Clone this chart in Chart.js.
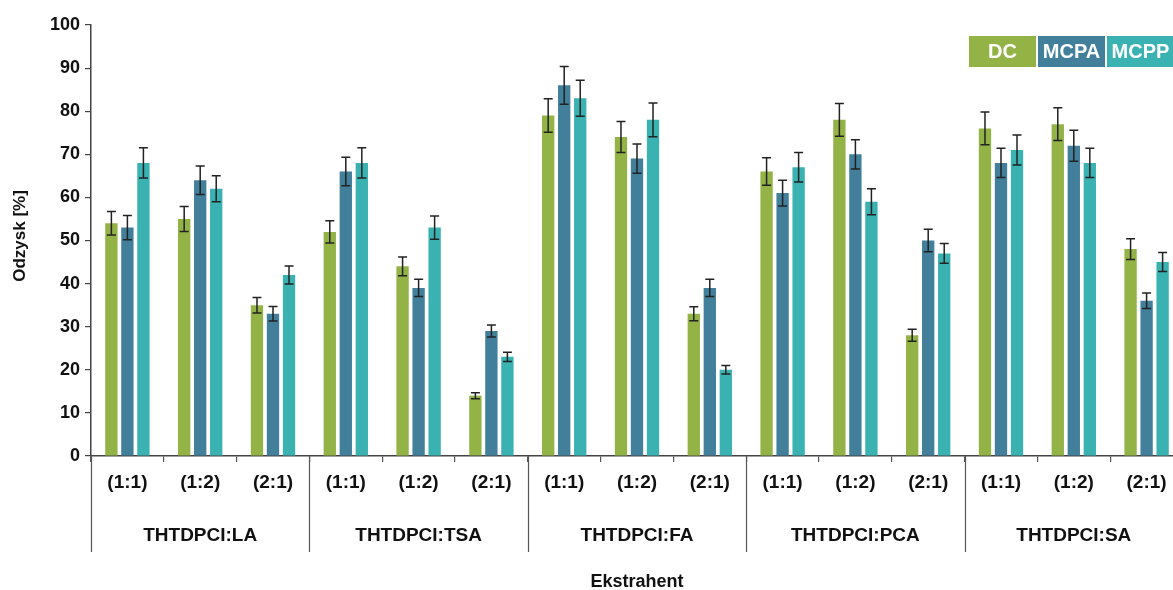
<!DOCTYPE html>
<html>
<head>
<meta charset="utf-8">
<script src="https://cdn.jsdelivr.net/npm/chart.js@4/dist/chart.umd.min.js"></script>
<style>
  html, body { margin: 0; padding: 0; background: #fff; overflow: hidden; }
  canvas { display: block; }
</style>
</head>
<body>
<canvas id="chart1" width="1190" height="590"></canvas>
<script>
// ratios within each extractant group
const ratios = ['(1:1)', '(1:2)', '(2:1)', '(1:1)', '(1:2)', '(2:1)', '(1:1)', '(1:2)', '(2:1)',
                '(1:1)', '(1:2)', '(2:1)', '(1:1)', '(1:2)', '(2:1)']
const groups = ['THTDPCI:LA', 'THTDPCI:TSA', 'THTDPCI:FA', 'THTDPCI:PCA', 'THTDPCI:SA']

const valDC   = [54, 55, 35, 52, 44, 14, 79, 74, 33, 66, 78, 28, 76, 77, 48]
const valMCPA = [53, 64, 33, 66, 39, 29, 86, 69, 39, 61, 70, 50, 68, 72, 36]
const valMCPP = [68, 62, 42, 68, 53, 23, 83, 78, 20, 67, 59, 47, 71, 68, 45]

const errDC   = [2.7, 2.9, 1.8, 2.6, 2.2, 0.7, 3.9, 3.6, 1.6, 3.2, 3.8, 1.4, 3.8, 3.8, 2.4]
const errMCPA = [2.8, 3.3, 1.7, 3.3, 2.0, 1.4, 4.4, 3.4, 2.0, 3.0, 3.4, 2.6, 3.4, 3.6, 1.8]
const errMCPP = [3.5, 3.0, 2.1, 3.5, 2.7, 1.1, 4.2, 3.9, 1.0, 3.4, 3.0, 2.3, 3.5, 3.4, 2.2]

const yTicks = [0, 10, 20, 30, 40, 50, 60, 70, 80, 90, 100]

const colDC = '#93b347'
const colMCPA = '#427f9b'
const colMCPP = '#3bb2b2'
const boldFont = '"Liberation Sans", Arial, sans-serif'

// error bars drawn from the y scale
const errorBars = {
  id: 'errorBars',
  afterDatasetsDraw(chart) {
    const ctx = chart.ctx
    const y = chart.scales.y
    ctx.save()
    ctx.strokeStyle = '#222'
    ctx.lineWidth = 1.5
    chart.data.datasets.forEach((ds, di) => {
      const meta = chart.getDatasetMeta(di)
      meta.data.forEach((bar, i) => {
        const v = ds.data[i], e = ds.errors[i]
        const top = y.getPixelForValue(v + e)
        const bot = y.getPixelForValue(v - e)
        const cx = bar.x
        ctx.beginPath()
        ctx.moveTo(cx, top); ctx.lineTo(cx, bot)
        ctx.moveTo(cx - 4.5, top); ctx.lineTo(cx + 4.5, top)
        ctx.moveTo(cx - 4.5, bot); ctx.lineTo(cx + 4.5, bot)
        ctx.stroke()
      })
    })
    ctx.restore()
  }
}

// group separators, group names, axis titles, and the box legend
const decorations = {
  id: 'decorations',
  afterDraw(chart) {
    const ctx = chart.ctx
    const area = chart.chartArea
    const step = (area.right - area.left) / ratios.length
    ctx.save()
    ctx.strokeStyle = '#555'
    ctx.lineWidth = 1.2
    for (let g = 0; g <= groups.length; g++) {
      const px = Math.round(area.left + g * 3 * step) + 0.5
      ctx.beginPath()
      ctx.moveTo(px, area.bottom)
      ctx.lineTo(px, 552)
      ctx.stroke()
    }
    ctx.fillStyle = '#111'
    ctx.font = 'bold 19px ' + boldFont
    ctx.textAlign = 'center'
    ctx.textBaseline = 'middle'
    groups.forEach((name, g) => {
      const cx = area.left + (g * 3 + 1.5) * step
      ctx.fillText(name, cx, 536)
    })
    ctx.font = 'bold 18px ' + boldFont
    ctx.fillText('Ekstrahent', (area.left + area.right) / 2, 582)

    // y title
    ctx.save()
    ctx.translate(20, 236)
    ctx.rotate(-Math.PI / 2)
    ctx.font = 'bold 17px ' + boldFont
    ctx.fillText('Odzysk [%]', 0, 0)
    ctx.restore()

    // legend boxes
    const legend = [['DC', colDC], ['MCPA', colMCPA], ['MCPP', colMCPP]]
    ctx.font = 'bold 20px ' + boldFont
    legend.forEach((item, i) => {
      const bx = 969 + i * 69
      ctx.fillStyle = item[1]
      ctx.fillRect(bx, 36, 67, 31)
      ctx.fillStyle = '#fff'
      ctx.fillText(item[0], bx + 33.5, 52)
    })
    ctx.restore()
  }
}

const ctx1 = document.getElementById('chart1').getContext('2d')
const chart1 = new Chart(ctx1, {
  type: 'bar',
  data: {
    labels: ratios,
    datasets: [
      { label: 'DC', data: valDC, errors: errDC, backgroundColor: colDC },
      { label: 'MCPA', data: valMCPA, errors: errMCPA, backgroundColor: colMCPA },
      { label: 'MCPP', data: valMCPP, errors: errMCPP, backgroundColor: colMCPP }
    ]
  },
  options: {
    responsive: false,
    animation: false,
    events: [],
    categoryPercentage: 0.66,
    barPercentage: 0.77,
    layout: { padding: { top: 25, right: 7, left: 0, bottom: 0 } },
    scales: {
      x: {
        afterFit: s => { s.height = 134 },
        grid: { drawOnChartArea: false, drawTicks: true, tickLength: 6, color: '#555', lineWidth: 1.2 },
        border: { display: true, color: '#444', width: 1.5 },
        ticks: { color: '#111', font: { family: boldFont, size: 19, weight: 'bold' }, padding: 9, maxRotation: 0, autoSkip: false }
      },
      y: {
        min: 0,
        max: 100,
        afterFit: s => { s.width = 91 },
        afterBuildTicks: s => { s.ticks = yTicks.map(v => ({ value: v })) },
        grid: { drawOnChartArea: false, drawTicks: true, tickLength: 6, color: '#444', lineWidth: 1.2 },
        border: { display: true, color: '#444', width: 1.5 },
        ticks: { color: '#111', font: { family: boldFont, size: 18, weight: 'bold' }, padding: 5 }
      }
    },
    plugins: {
      legend: { display: false },
      tooltip: { enabled: false }
    }
  },
  plugins: [errorBars, decorations]
})
</script>
</body>
</html>
